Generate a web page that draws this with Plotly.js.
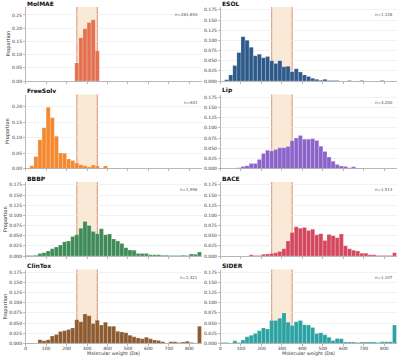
<!DOCTYPE html>
<html>
<head>
<meta charset="utf-8">
<script src="https://cdn.plot.ly/plotly-3.0.1.min.js"></script>
<style>
  html, body { margin: 0; padding: 0; background: #ffffff; }
  #chart { width: 400px; height: 357px; }
</style>
</head>
<body>
<div id="chart"></div>
<script>
// Molecular-weight histograms: 20 Da bins starting at 0 Da (43 bins, 0–860 Da)
const binStart = [0, 20, 40, 60, 80, 100, 120, 140, 160, 180, 200, 220, 240, 260, 280, 300, 320, 340,
  360, 380, 400, 420, 440, 460, 480, 500, 520, 540, 560, 580, 600, 620, 640, 660, 680, 700, 720, 740,
  760, 780, 800, 820, 840];
const binWidth = 20;

const datasetNames = ["MolMAE", "ESOL", "FreeSolv", "Lip", "BBBP", "BACE", "ClinTox", "SIDER"];
const sampleCounts = ["n=261,840", "n=1,128", "n=641", "n=4,200", "n=1,996", "n=1,513", "n=1,421", "n=1,337"];

// Proportion of molecules per bin
const molmae = [0, 0, 0, 0, 0, 0, 0, 0, 0, 0, 0, 0, 0.0685, 0.164, 0.198, 0.221, 0.232, 0.114,
  0, 0, 0, 0, 0, 0, 0, 0, 0, 0, 0, 0, 0, 0, 0, 0, 0, 0, 0, 0, 0, 0, 0, 0, 0];
const esol = [0, 0.003, 0.015, 0.038, 0.070, 0.109, 0.100, 0.083, 0.062, 0.066, 0.057, 0.060, 0.050,
  0.043, 0.050, 0.035, 0.036, 0.023, 0.030, 0.022, 0.015, 0.011, 0.007, 0.004, 0.002, 0.004, 0.001,
  0.001, 0.001, 0, 0, 0.001, 0, 0, 0.001, 0, 0, 0, 0, 0.001, 0, 0, 0];
const freesolv = [0, 0.009, 0.039, 0.093, 0.132, 0.198, 0.164, 0.104, 0.050, 0.049, 0.031, 0.026, 0.018,
  0.012, 0.009, 0.005, 0.011, 0.008, 0.002, 0.008, 0.002, 0.002, 0.002, 0, 0.002, 0, 0, 0, 0, 0, 0,
  0, 0, 0, 0, 0, 0, 0, 0, 0, 0, 0, 0];
const lip = [0, 0, 0, 0, 0.002, 0.005, 0.007, 0.012, 0.012, 0.022, 0.037, 0.045, 0.043, 0.047, 0.051,
  0.051, 0.054, 0.068, 0.075, 0.081, 0.072, 0.072, 0.073, 0.069, 0.055, 0.042, 0.028, 0.018, 0.010,
  0.006, 0.005, 0.002, 0.004, 0.001, 0.001, 0, 0, 0, 0, 0, 0, 0, 0];
const bbbp = [0.001, 0.001, 0.002, 0.006, 0.008, 0.012, 0.018, 0.022, 0.027, 0.035, 0.037, 0.048, 0.052,
  0.068, 0.085, 0.075, 0.060, 0.055, 0.067, 0.052, 0.054, 0.042, 0.037, 0.031, 0.020, 0.015, 0.014,
  0.006, 0.006, 0.006, 0.003, 0.003, 0.003, 0.002, 0.002, 0.001, 0.001, 0.001, 0.002, 0.001, 0.005,
  0.004, 0.010];
const bace = [0, 0, 0, 0, 0, 0, 0, 0.003, 0.001, 0.001, 0.004, 0.005, 0.006, 0.008, 0.011, 0.018, 0.037,
  0.058, 0.072, 0.068, 0.070, 0.063, 0.066, 0.052, 0.055, 0.038, 0.053, 0.050, 0.045, 0.054, 0.025,
  0.018, 0.014, 0.012, 0.007, 0.007, 0.003, 0.003, 0.001, 0.001, 0.001, 0.001, 0.008];
const clintox = [0.001, 0.001, 0, 0.009, 0.006, 0.009, 0.018, 0.022, 0.029, 0.031, 0.034, 0.038, 0.058,
  0.053, 0.072, 0.068, 0.049, 0.057, 0.045, 0.052, 0.042, 0.042, 0.030, 0.028, 0.026, 0.020, 0.016,
  0.013, 0.011, 0.015, 0.011, 0.008, 0.007, 0.004, 0.001, 0.004, 0.004, 0.002, 0.003, 0.005, 0.002,
  0.001, 0.042];
const sider = [0.002, 0.002, 0.001, 0.006, 0.002, 0.008, 0.016, 0.020, 0.024, 0.031, 0.038, 0.035, 0.056,
  0.056, 0.062, 0.075, 0.052, 0.044, 0.053, 0.056, 0.046, 0.045, 0.039, 0.024, 0.026, 0.021, 0.015,
  0.007, 0.012, 0.011, 0.003, 0.003, 0.003, 0.002, 0.003, 0.003, 0.003, 0.003, 0.002, 0.004, 0.004,
  0.004, 0.045];

// Highlighted molecular-weight window (Da)
const windowRange = [250, 350];
const xTicks = [0, 100, 200, 300, 400, 500, 600, 700, 800];
const xTitle = "Molecular weight (Da)";
const yTitle = "Proportion";

const series = [molmae, esol, freesolv, lip, bbbp, bace, clintox, sider];
const colors = ["#E4704F", "#2E5A89", "#F4882E", "#8B63C9", "#3E8B57", "#D4485D", "#8D5B2F", "#2CA3A3"];
const yTop = [0.28, 0.182, 0.239, 0.182, 0.182, 0.182, 0.182, 0.182];
const yStep = [0.05, 0.025, 0.05, 0.025, 0.025, 0.025, 0.025, 0.025];
const yFmt = [".2f", ".3f", ".2f", ".3f", ".3f", ".3f", ".3f", ".3f"];

const W = 400, H = 357;
const colPx = [[25.7, 201.6], [220.5, 396.6]];
const rowPx = [[7, 81], [94.5, 168.5], [182, 256], [269.5, 343.3]];
// horizontal position of the rotated y title (narrower tick labels sit closer)
const yTitleX = [7.6, 0, 7.6, 0, 5.2, 0, 5.2, 0];

const centers = binStart.map(b => b + binWidth / 2);
const font = "DejaVu Sans, Liberation Sans, sans-serif";

const traces = [];
const layout = {
  width: W, height: H,
  margin: {l: 0, r: 0, t: 0, b: 0},
  paper_bgcolor: "#ffffff",
  plot_bgcolor: "#ffffff",
  showlegend: false,
  bargap: 0,
  font: {family: font, size: 4.5, color: "#333333"},
  shapes: [],
  annotations: []
};

series.forEach((vals, i) => {
  const row = Math.floor(i / 2), col = i % 2;
  const sfx = i === 0 ? "" : String(i + 1);
  const xa = "x" + sfx, ya = "y" + sfx;

  traces.push({
    type: "bar",
    x: centers, y: vals, width: binWidth,
    xaxis: xa, yaxis: ya,
    marker: {color: colors[i], line: {color: "rgba(255,255,255,0.55)", width: 0.4}},
    hoverinfo: "skip"
  });

  const bottomRow = row === 3;
  layout["xaxis" + sfx] = {
    domain: [colPx[col][0] / W, colPx[col][1] / W],
    anchor: ya,
    range: [0, 860],
    tickvals: xTicks,
    showticklabels: bottomRow,
    ticks: "outside", ticklen: 2, tickwidth: 0.6, tickcolor: "#8a8a8a",
    ticklabelstandoff: -1,
    showline: true, linecolor: "#9a9a9a", linewidth: 0.7,
    showgrid: false, zeroline: false,
    tickfont: {size: 4.5, color: "#333333"}
  };
  layout["yaxis" + sfx] = {
    domain: [1 - rowPx[row][1] / H, 1 - rowPx[row][0] / H],
    anchor: xa,
    range: [0, yTop[i]],
    dtick: yStep[i], tick0: 0,
    tickformat: yFmt[i],
    ticks: "outside", ticklen: 2, tickwidth: 0.6, tickcolor: "#8a8a8a",
    showline: true, linecolor: "#9a9a9a", linewidth: 0.7,
    showgrid: true, gridcolor: "#e9e9e9", gridwidth: 0.6,
    zeroline: false,
    tickfont: {size: 4.5, color: "#333333"}
  };

  // shaded molecular-weight window with its two boundary lines
  layout.shapes.push({
    type: "rect", layer: "below", xref: xa, yref: ya + " domain",
    x0: windowRange[0], x1: windowRange[1], y0: 0, y1: 1,
    fillcolor: "rgba(244,207,160,0.45)", line: {width: 0}
  });
  windowRange.forEach(v => layout.shapes.push({
    type: "line", layer: "below", xref: xa, yref: ya + " domain",
    x0: v, x1: v, y0: 0, y1: 1,
    line: {color: "rgba(204,96,72,0.75)", width: 0.9}
  }));

  // panel title and sample count
  layout.annotations.push({
    text: "<b>" + datasetNames[i] + "</b>",
    xref: xa + " domain", yref: ya + " domain",
    x: 0, y: 1, xanchor: "left", yanchor: "bottom",
    showarrow: false, borderpad: 0, yshift: -0.5,
    font: {size: 6, color: "#111111", family: font}
  });
  layout.annotations.push({
    text: sampleCounts[i],
    xref: xa + " domain", yref: ya + " domain",
    x: 0.985, y: 0.895, xanchor: "right", yanchor: "middle",
    showarrow: false, borderpad: 0,
    font: {size: 4, color: "#555555", family: font}
  });

  // axis titles: y on the left column, x on the bottom row
  if (col === 0) {
    layout.annotations.push({
      text: yTitle, textangle: -90,
      xref: "paper", yref: ya + " domain",
      x: yTitleX[i] / W, y: 0.5, xanchor: "center", yanchor: "middle",
      showarrow: false, borderpad: 0,
      font: {size: 5, color: "#333333", family: font}
    });
  }
  if (bottomRow) {
    layout.annotations.push({
      text: xTitle,
      xref: xa + " domain", yref: "paper",
      x: 0.5, y: 0, xanchor: "center", yanchor: "bottom",
      showarrow: false, borderpad: 0,
      font: {size: 4.8, color: "#333333", family: font}
    });
  }
});

Plotly.newPlot("chart", traces, layout, {staticPlot: true, displayModeBar: false});
</script>
</body>
</html>
